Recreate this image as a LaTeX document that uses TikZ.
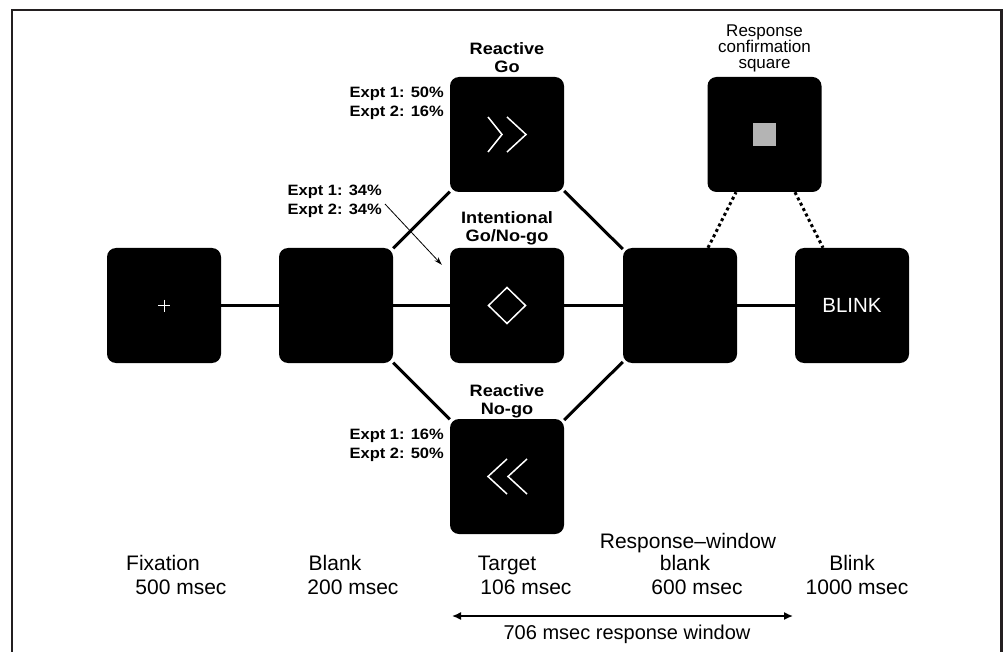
\documentclass[tikz,border=0pt]{standalone}
\usepackage{fontspec}
\setmainfont{Liberation Sans}
\newfontfamily\boldlab[FakeStretch=1.1]{Liberation Sans}
\usetikzlibrary{arrows.meta,calc}
\definecolor{framecol}{HTML}{231F20}
\definecolor{sqgray}{HTML}{B4B4B4}
\begin{document}
\begin{tikzpicture}[x=1pt,y=-1pt,
  box/.style={rectangle,fill=black,minimum width=114pt,minimum height=115pt,rounded corners=9pt,inner sep=0pt},
  conn/.style={line width=3pt},
  dots/.style={line width=3pt,dash pattern=on 3pt off 3pt},
  glyph/.style={white,line width=1.5pt},
  blab/.style={font=\boldlab\bfseries\fontsize{16.5}{18}\selectfont,align=center,anchor=base,inner sep=0pt},
  elab/.style={font=\boldlab\bfseries\fontsize{15}{19}\selectfont,align=right,anchor=east,inner sep=0pt},
  tlab/.style={font=\fontsize{21}{24}\selectfont,anchor=base,inner sep=0pt},
  ptr/.style={line width=0.8pt,-{Stealth[length=8pt,width=5pt]}},
  span/.style={line width=1.5pt,{Latex[length=9pt,width=8pt]}-{Latex[length=9pt,width=8pt]}}
]
\useasboundingbox (0,0) rectangle (1003,652);
\draw[line width=2.5pt,framecol] (12,652) -- (12,10) -- (1001.5,10) -- (1001.5,652);

% boxes
\node[box] (fix) at (164,305.5) {};
\node[box] (blank) at (336,305.5) {};
\node[box] (int) at (507,305.5) {};
\node[box] (resp) at (680,305.5) {};
\node[box,text=white,font=\fontsize{20.5}{24}\selectfont] (blink) at (852,305.5) {BLINK};
\node[box] (go) at (507,134.5) {};
\node[box] (nogo) at (507,476.5) {};
\node[box] (conf) at (764.5,134.5) {};
\node[fill=sqgray,minimum size=23pt,inner sep=0pt] (sq) at (conf) {};

% connectors
\draw[conn] (fix) -- (blank);
\draw[conn] (blank) -- (int);
\draw[conn] (int) -- (resp);
\draw[conn] (resp) -- (blink);
\draw[conn] (blank) -- (go);
\draw[conn] (go) -- (resp);
\draw[conn] (blank) -- (nogo);
\draw[conn] (nogo) -- (resp);
\draw[dots] ($(resp.north)+(28,0)$) -- ($(conf.south)+(-28.5,0)$);
\draw[dots] ($(conf.south)+(30.5,0)$) -- ($(blink.north)+(-29,0)$);

% glyphs inside boxes
\draw[white,line width=1pt] ($(fix)+(-6,0)$) -- ($(fix)+(6,0)$) ($(fix)+(0,-6)$) -- ($(fix)+(0,6)$);
\draw[glyph] ($(go)+(-19,-17.5)$) -- ($(go)+(-5,0)$) -- ($(go)+(-19,17.5)$);
\draw[glyph] ($(go)+(0,-17.5)$) -- ($(go)+(19,0)$) -- ($(go)+(0,17.5)$);
\draw[glyph] ($(nogo)+(0,-17.5)$) -- ($(nogo)+(-19,0)$) -- ($(nogo)+(0,17.5)$);
\draw[glyph] ($(nogo)+(20,-17.5)$) -- ($(nogo)+(1,0)$) -- ($(nogo)+(20,17.5)$);
\draw[glyph] ($(int)+(0,-18)$) -- ($(int)+(18.5,0)$) -- ($(int)+(0,18)$) -- ($(int)+(-18.5,0)$) -- cycle;

% bold labels
\node[blab] (lgo) at (507,72.5) {Reactive\\Go};
\node[blab] (lint) at (507,242) {Intentional\\Go/No-go};
\node[blab] (lnogo) at (507,414) {Reactive\\No-go};
\node[elab] (e1) at (444,103.5) {Expt 1: 50\%\\Expt 2: 16\%};
\node[elab] (e2) at (382,201.5) {Expt 1: 34\%\\Expt 2: 34\%};
\node[elab] (e3) at (444,445.5) {Expt 1: 16\%\\Expt 2: 50\%};
\coordinate (astart) at (385,204);
\draw[ptr] (astart) -- ($(int.north west)+(-8,17)$);

\node[font=\fontsize{17}{16}\selectfont,align=center,anchor=south,inner sep=0pt] (lconf) at (764.5,72) {Response\\confirmation\\square};

% bottom labels
\node[tlab] (tfix) at (163,570) {Fixation};
\node[tlab] (dfix) at (181,594) {500 msec};
\node[tlab] (tblank) at (335,570) {Blank};
\node[tlab] (dblank) at (353,594) {200 msec};
\node[tlab] (ttar) at (507,570) {Target};
\node[tlab] (dtar) at (526,594) {106 msec};
\node[tlab] (trw) at (688,548) {Response--window};
\node[tlab] (trw2) at (685,570) {blank};
\node[tlab] (drw) at (697,594) {600 msec};
\node[tlab] (tblink) at (852,570) {Blink};
\node[tlab] (dblink) at (857,594) {1000 msec};

\coordinate (wl) at (452,616);
\coordinate (wr) at (793,616);
\draw[span] (wl) -- (wr);
\node[font=\fontsize{20}{24}\selectfont,anchor=base,inner sep=0pt] (twin) at (627,639) {706 msec response window};
\end{tikzpicture}
\end{document}
